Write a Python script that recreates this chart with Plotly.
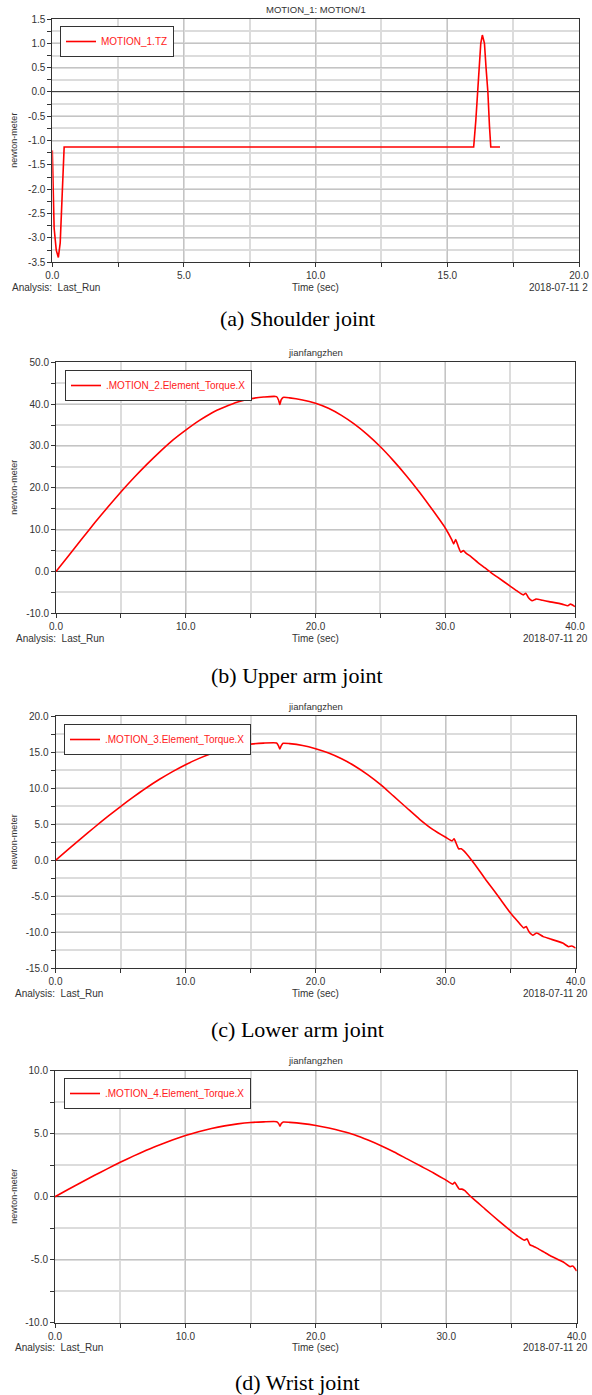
import plotly.graph_objects as go

W, H = 592, 1395

# ---------------- data ----------------
# (a) Shoulder joint
t_a = [0.0, 0.07, 0.15, 0.23, 0.3, 0.35, 0.4, 0.45, 0.5, 16.0, 16.08, 16.16, 16.22, 16.27, 16.33,
       16.41, 16.47, 16.54, 16.6, 16.65, 17.0]
v_a = [-1.2, -2.8, -3.25, -3.4, -3.1, -2.4, -1.6, -1.13, -1.13, -1.13, -0.6, 0.0, 0.5, 1.0, 1.17,
       1.0, 0.5, 0.0, -0.7, -1.13, -1.13]

# (b) Upper arm joint
t_b = [0, 1, 2, 3, 4, 5, 6, 7, 8, 9, 10, 11, 12, 13, 14, 15, 16, 17.0, 17.15, 17.25, 17.35, 17.5,
       18, 19, 20, 21, 22, 23, 24, 25, 26, 27, 28, 29, 30, 30.5, 30.65, 30.8, 31.0, 31.2, 31.4,
       31.6, 32, 32.5, 33, 33.5, 34, 35, 35.5, 36.0, 36.2, 36.4, 36.7, 37.0, 37.5, 38, 39, 39.45,
       39.65, 40]
v_b = [0, 3.9, 7.8, 11.7, 15.4, 19.0, 22.4, 25.6, 28.6, 31.4, 33.8, 36.0, 37.9, 39.3, 40.5, 41.3,
       41.7, 41.8, 41.0, 39.9, 41.0, 41.6, 41.5, 41.0, 40.2, 39.0, 37.3, 35.2, 32.7, 29.8, 26.5,
       22.9, 19.0, 14.8, 10.4, 7.6, 6.6, 7.6, 6.0, 4.6, 5.0, 4.4, 3.5, 2.2, 1.0, -0.2, -1.3, -3.5,
       -4.6, -5.6, -5.2, -6.2, -7.0, -6.6, -6.9, -7.2, -7.8, -8.2, -7.8, -8.4]

# (c) Lower arm joint
t_c = [0, 1, 2, 3, 4, 5, 6, 7, 8, 9, 10, 11, 12, 13, 14, 15, 16, 17.0, 17.15, 17.25, 17.35, 17.5,
       18, 19, 20, 21, 22, 23, 24, 25, 26, 27, 28, 29, 30, 30.5, 30.65, 30.8, 31.0, 31.2, 31.4,
       31.6, 32, 32.5, 33.1, 34, 35, 35.5, 36.0, 36.2, 36.4, 36.7, 37.0, 37.5, 38, 39, 39.45,
       39.7, 40]
v_c = [0, 1.55, 3.09, 4.59, 6.06, 7.47, 8.81, 10.08, 11.25, 12.32, 13.28, 14.12, 14.83, 15.40,
       15.84, 16.13, 16.28, 16.3, 15.9, 15.45, 15.9, 16.25, 16.2, 15.95, 15.5, 14.9, 14.1, 13.1,
       11.9, 10.5, 8.9, 7.3, 5.7, 4.3, 3.2, 2.7, 3.0, 2.4, 1.6, 1.6, 1.3, 0.9, 0.0, -1.2, -2.73,
       -4.9, -7.36, -8.4, -9.4, -9.2, -9.9, -10.4, -10.1, -10.6, -10.9, -11.5, -12.0, -11.9, -12.2]

# (d) Wrist joint
t_d = [0, 1, 2, 3, 4, 5, 6, 7, 8, 9, 10, 11, 12, 13, 14, 15, 16, 17.0, 17.15, 17.25, 17.35, 17.5,
       18, 19, 20, 21, 22, 23, 24, 25, 26, 27, 28, 29, 30, 30.5, 30.65, 30.8, 31.0, 31.2, 31.4,
       31.6, 32, 33, 34, 35, 35.5, 36.0, 36.2, 36.4, 36.7, 37.0, 37.5, 38, 39, 39.5, 39.7, 40]
v_d = [0, 0.57, 1.13, 1.68, 2.21, 2.73, 3.22, 3.68, 4.11, 4.50, 4.85, 5.15, 5.41, 5.62, 5.78,
       5.89, 5.94, 5.95, 5.8, 5.6, 5.8, 5.93, 5.9, 5.8, 5.65, 5.45, 5.2, 4.9, 4.5, 4.05, 3.55,
       3.0, 2.45, 1.9, 1.3, 1.0, 1.15, 0.9, 0.6, 0.6, 0.5, 0.3, -0.1, -1.0, -1.9, -2.75, -3.15,
       -3.45, -3.35, -3.8, -3.95, -4.1, -4.4, -4.7, -5.2, -5.55, -5.5, -5.9]

# tick values
xticks_a = [0.0, 5.0, 10.0, 15.0, 20.0]
yticks_a = [-3.5, -3.0, -2.5, -2.0, -1.5, -1.0, -0.5, 0.0, 0.5, 1.0, 1.5]
xticks_bcd = [0.0, 10.0, 20.0, 30.0, 40.0]
yticks_b = [-10.0, 0.0, 10.0, 20.0, 30.0, 40.0, 50.0]
yticks_c = [-15.0, -10.0, -5.0, 0.0, 5.0, 10.0, 15.0, 20.0]
yticks_d = [-10.0, -5.0, 0.0, 5.0, 10.0]

names = ["MOTION_1.TZ", ".MOTION_2.Element_Torque.X", ".MOTION_3.Element_Torque.X",
         ".MOTION_4.Element_Torque.X"]
titles = ["MOTION_1: MOTION/1", "jianfangzhen", "jianfangzhen", "jianfangzhen"]
captions = ["(a) Shoulder joint", "(b) Upper arm joint", "(c) Lower arm joint", "(d) Wrist joint"]
dates = ["2018-07-11 2", "2018-07-11 20", "2018-07-11 20", "2018-07-11 20"]

# ---------------- layout geometry (pixels) ----------------
panels = [
    dict(t=t_a, v=v_a, xr=[0, 20], yr=[-3.5, 1.5], xt=xticks_a, yt=yticks_a, xminor=2.5, yminor=0.25,
         box=(52.3, 579, 19, 262.3), leg=(60, 26), an_x=10, cap_y=318, shape="linear"),
    dict(t=t_b, v=v_b, xr=[0, 40], yr=[-10, 50], xt=xticks_bcd, yt=yticks_b, xminor=5, yminor=5,
         box=(56, 575, 362.3, 613.3), leg=(65, 370), an_x=14, cap_y=676, shape="spline"),
    dict(t=t_c, v=v_c, xr=[0, 40], yr=[-15, 20], xt=xticks_bcd, yt=yticks_c, xminor=5, yminor=2.5,
         box=(55.5, 575.7, 716.3, 968.3), leg=(64, 724), an_x=13, cap_y=1029, shape="spline"),
    dict(t=t_d, v=v_d, xr=[0, 40], yr=[-10, 10], xt=xticks_bcd, yt=yticks_d, xminor=5, yminor=2.5,
         box=(55, 576.7, 1070.7, 1322.7), leg=(64, 1078), an_x=13, cap_y=1382, shape="spline"),
]


def xp(px):
    return px / W


def yp(py):
    return 1 - py / H


FONT = "Liberation Sans, Arial, sans-serif"
TXT = "#333333"

fig = go.Figure()
layout = dict(width=W, height=H, margin=dict(l=0, r=0, t=0, b=0, pad=0, autoexpand=False),
              autosize=False, paper_bgcolor="white", plot_bgcolor="white", annotations=[],
              font=dict(family=FONT, size=10, color=TXT))

for i, p in enumerate(panels):
    k = i + 1
    sfx = "" if k == 1 else str(k)
    legname = "legend" if k == 1 else f"legend{k}"
    fig.add_trace(go.Scatter(x=p["t"], y=p["v"], mode="lines", name=names[i],
                             line=dict(color="#ff0000", width=1.6, shape=p["shape"],
                                       smoothing=0.5),
                             xaxis=f"x{sfx}", yaxis=f"y{sfx}", legend=legname, showlegend=True))
    x0, x1, y0, y1 = p["box"]
    common = dict(showline=True, linecolor="#333333", linewidth=1, mirror=True,
                  ticks="outside", ticklen=4, tickcolor="#333333", tickwidth=1,
                  showgrid=True, gridcolor="#c4c4c4", gridwidth=1, automargin=False,
                  tickfont=dict(family=FONT, size=10, color=TXT), fixedrange=True)
    layout[f"xaxis{sfx}"] = dict(common, domain=[xp(x0), xp(x1)], range=p["xr"], anchor=f"y{sfx}",
                                 tickmode="array", tickvals=p["xt"],
                                 ticktext=[f"{v:.1f}" for v in p["xt"]], zeroline=False,
                                 minor=dict(tick0=0, dtick=p["xminor"], showgrid=True,
                                            gridcolor="#dcdcdc", gridwidth=1.5,
                                            ticks="outside", ticklen=4, tickcolor="#333333"))
    layout[f"yaxis{sfx}"] = dict(common, domain=[yp(y1), yp(y0)], range=p["yr"], anchor=f"x{sfx}",
                                 tickmode="array", tickvals=p["yt"],
                                 ticktext=[f"{v:.1f}" for v in p["yt"]],
                                 zeroline=True, zerolinecolor="#404040", zerolinewidth=1.2,
                                 minor=dict(tick0=0, dtick=p["yminor"], showgrid=True,
                                            gridcolor="#dcdcdc", gridwidth=1.5,
                                            ticks="outside", ticklen=4, tickcolor="#333333"))
    lx, ly = p["leg"]
    layout[legname] = dict(x=xp(lx), y=yp(ly), xanchor="left", yanchor="top",
                           bgcolor="white", bordercolor="#333333", borderwidth=1,
                           font=dict(family=FONT, size=10, color="#ff2020"),
                           itemwidth=30, tracegroupgap=0)
    cx = (x0 + x1) / 2
    ann = layout["annotations"]
    ann.append(dict(text=titles[i], x=xp(cx), y=yp(y0 - 10), xref="paper", yref="paper",
                    showarrow=False, xanchor="center", yanchor="middle",
                    font=dict(family=FONT, size=9.5, color=TXT)))
    ann.append(dict(text="newton-meter", x=xp(14), y=yp((y0 + y1) / 2), xref="paper",
                    yref="paper", showarrow=False, textangle=-90, xanchor="center",
                    yanchor="middle", font=dict(family=FONT, size=9, color=TXT)))
    ann.append(dict(text="Analysis:  Last_Run", x=xp(p["an_x"]), y=yp(y1 + 25), xref="paper",
                    yref="paper", showarrow=False, xanchor="left", yanchor="middle",
                    font=dict(family=FONT, size=10, color=TXT)))
    ann.append(dict(text="Time (sec)", x=xp(cx), y=yp(y1 + 25), xref="paper", yref="paper",
                    showarrow=False, xanchor="center", yanchor="middle",
                    font=dict(family=FONT, size=10, color=TXT)))
    ann.append(dict(text=dates[i], x=xp(590), y=yp(y1 + 25), xref="paper",
                    yref="paper", showarrow=False, xanchor="right", yanchor="middle",
                    font=dict(family=FONT, size=10, color=TXT)))
    ann.append(dict(text=captions[i], x=xp(297), y=yp(p["cap_y"]), xref="paper", yref="paper",
                    showarrow=False, xanchor="center", yanchor="middle",
                    font=dict(family="Liberation Serif, Times New Roman, serif", size=22,
                              color="black")))

fig.update_layout(**layout)
fig.write_html("out.html", config={"displayModeBar": False},
               post_script="document.body.style.margin='0';document.body.style.padding='0';"
                           "document.documentElement.style.overflow='hidden';")
